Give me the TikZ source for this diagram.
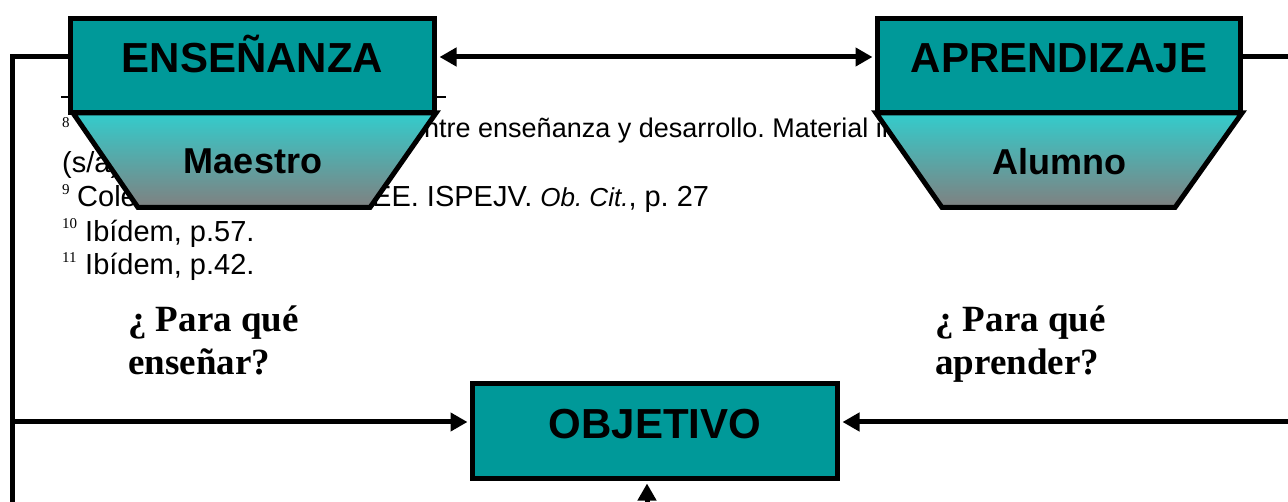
\documentclass[tikz,border=0pt]{standalone}
\usepackage{fontspec}
\setmainfont{Liberation Sans}
\newfontfamily\serifq{Liberation Serif}
\usetikzlibrary{arrows.meta}
\definecolor{tealbox}{HTML}{009999}
\definecolor{cyantop}{HTML}{33CCCC}
\definecolor{graybot}{HTML}{808080}
\frenchspacing
\begin{document}
\begin{tikzpicture}[x=1pt,y=-1pt,
  box/.style={draw=black, line width=5pt, fill=tealbox, inner sep=0pt,
    font=\fontsize{42}{42}\selectfont\bfseries, text height=30pt, text depth=15pt},
  trap/.style={draw=black, line width=5pt, line join=miter, top color=cyantop, bottom color=graybot},
  subt/.style={font=\fontsize{36}{36}\selectfont\bfseries, inner sep=0pt},
  conn/.style={line width=5pt, line join=miter},
  head/.tip={Triangle[length=17pt,width=18pt]},
  tip/.style={-head, shorten >=2.5pt},
  fn/.style={font=\fontsize{29}{29}\selectfont, anchor=base west, inner sep=0pt},
  fnsmall/.style={font=\fontsize{27}{27}\selectfont, anchor=base west, inner sep=0pt},
  fnmark/.style={font=\fontsize{15}{15}\serifq, anchor=base west, inner sep=0pt},
  quest/.style={font=\fontsize{37}{43}\serifq\bfseries, align=left, anchor=base west, inner sep=0pt}
]
\useasboundingbox (0,0) rectangle (1288,502);
% footnote background
\draw[line width=1.3pt] (61,97) -- (446,97);
\node[fnmark] (m8) at (62,128) {8};
\node[fnsmall] (f1) at (424,138) {ntre enseñanza y desarrollo. Material in};
\node[fn] (f2) at (62,173) {(s/a)};
\node[fnmark] (m9) at (62,195) {9};
\node[fn] (f3) at (77,207) {Cole};
\node[fn] (f4) at (372,207) {EE. ISPEJV. {\fontsize{26}{26}\selectfont\itshape Ob. Cit.}, p. 27};
\node[fnmark] (m10) at (62,229) {10};
\node[fn] (f7) at (85,242) {Ibídem, p.57.};
\node[fnmark] (m11) at (62,263) {11};
\node[fn] (f8) at (85,275) {Ibídem, p.42.};
% trapezoids
\path[trap] (73,113) -- (436,113) -- (370,207.5) -- (138,207.5) -- cycle;
\path[trap] (876,113) -- (1242,113) -- (1175,207.5) -- (942,207.5) -- cycle;
\node[subt] (maestro) at (253,161.5) {Maestro};
\node[subt] (alumno) at (1059.5,161.5) {Alumno};
% boxes
\node[box, minimum width=364pt, minimum height=94pt] (ens) at (252.5,65.5) {ENSEÑANZA};
\node[box, minimum width=363pt, minimum height=94pt] (apr) at (1059,65.5) {APRENDIZAJE};
\node[box, minimum width=365pt, minimum height=95pt] (obj) at (655,431) {OBJETIVO};
% questions
\node[quest] (q1) at (128,375) {¿ Para qué\\enseñar?};
\node[quest] (q2) at (935,375) {¿ Para qué\\aprender?};
% connectors
\coordinate (lbot) at (12.5,510);
\coordinate (rtop) at (1300,57);
\coordinate (rmid) at (1300,422);
\coordinate (bot) at (647,510);
\draw[conn] ([yshift=8.5pt]ens.west) -| (lbot);
\draw[conn, tip] ([yshift=9pt]obj.west -| lbot) -- ([yshift=9pt]obj.west);
\draw[conn, tip] (rmid) -- (rmid -| obj.east);
\draw[conn, tip] (bot) -- (bot |- obj.south);
\draw[conn, head-head, shorten <=2.5pt, shorten >=2.5pt] ([yshift=8.5pt]ens.east) -- ([yshift=8.5pt]apr.west);
\draw[conn] ([yshift=8.5pt]apr.east) -- (rtop);
\end{tikzpicture}
\end{document}
